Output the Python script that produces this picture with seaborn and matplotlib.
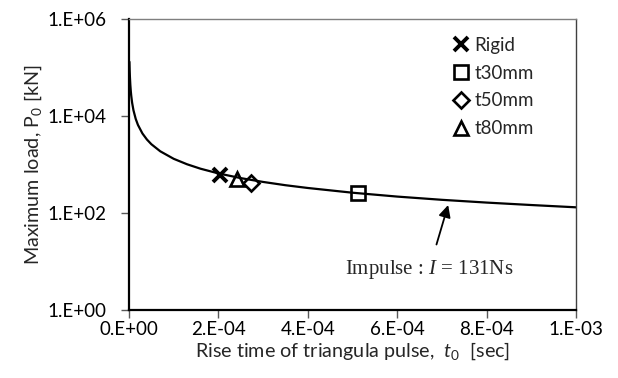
import numpy as np
import pandas as pd
import matplotlib
matplotlib.use("Agg")
import matplotlib.pyplot as plt
import seaborn as sns
from matplotlib.ticker import FuncFormatter, FixedLocator

# Curve: rise time t0 [sec] vs maximum load P0 [kN]
t0_curve = [1.0e-6, 1.5e-6, 2.0e-6, 3.0e-6, 4.0e-6, 5.0e-6, 7.0e-6, 1.0e-5, 1.5e-5,
            2.0e-5, 3.0e-5, 4.0e-5, 5.0e-5, 7.0e-5, 1.0e-4, 1.3e-4, 1.6e-4, 2.0e-4,
            2.5e-4, 3.0e-4, 3.5e-4, 4.0e-4, 5.0e-4, 6.0e-4, 7.0e-4, 8.0e-4, 9.0e-4, 1.0e-3]
p0_curve = [131000, 87300, 65500, 43700, 32800, 26200, 18700, 13100, 8730,
            6550, 4370, 3280, 2620, 1870, 1310, 1010, 819, 655,
            524, 437, 374, 328, 262, 218, 187, 164, 146, 131]

# Test points
labels = ["Rigid", "t30mm", "t50mm", "t80mm"]
t0_pts = [2.04e-4, 5.13e-4, 2.73e-4, 2.41e-4]
p0_pts = [605, 255, 410, 502]
markers = ["x", "s", "D", "^"]
msizes = [10.5, 10, 8, 10.5]
mwidths = [2.8, 1.9, 1.9, 1.9]

sns.set_style("white")
plt.rcParams["font.family"] = ["Lato", "DejaVu Sans"]
plt.rcParams["mathtext.fontset"] = "custom"
plt.rcParams["mathtext.rm"] = "Lato"
plt.rcParams["mathtext.it"] = "Lato:italic"
plt.rcParams["mathtext.cal"] = "Liberation Serif:italic"

fig = plt.figure(figsize=(6.18, 3.78), dpi=100)
ax = fig.add_axes([129 / 618, 1 - 310 / 378, (576 - 129) / 618, (310 - 19) / 378])

curve = pd.DataFrame({"t0": t0_curve, "P0": p0_curve})
sns.lineplot(data=curve, x="t0", y="P0", color="black", linewidth=1.6, ax=ax,
             sort=False)

for lab, t, p, m, ms, mw in zip(labels, t0_pts, p0_pts, markers, msizes, mwidths):
    ax.plot([t], [p], linestyle="none", marker=m, markersize=ms, markeredgewidth=mw,
            markerfacecolor="none" if m != "x" else "black", markeredgecolor="black",
            label=lab)

ax.set_yscale("log")
ax.set_xlim(0, 1e-3)
ax.set_ylim(1, 1e6)


def sci_fmt(v, pos=None):
    if v == 0:
        return "0.E+00"
    e = int(np.floor(np.log10(abs(v)) + 1e-9))
    m = v / 10 ** e
    return f"{m:.0f}.E{e:+03d}"


ax.xaxis.set_major_locator(FixedLocator([0, 2e-4, 4e-4, 6e-4, 8e-4, 1e-3]))
ax.yaxis.set_major_locator(FixedLocator([1, 1e2, 1e4, 1e6]))
ax.yaxis.set_minor_locator(FixedLocator([]))
ax.xaxis.set_major_formatter(FuncFormatter(sci_fmt))
ax.yaxis.set_major_formatter(FuncFormatter(sci_fmt))
ax.tick_params(axis="both", which="major", direction="out", length=6, width=1,
               color="#595959", labelsize=13.5, labelcolor="black")
ax.tick_params(axis="x", bottom=True, pad=2)
ax.tick_params(axis="y", left=True, pad=10)

for side in ["left", "bottom"]:
    ax.spines[side].set_color("black")
    ax.spines[side].set_linewidth(1.6)
ax.spines["top"].set_color("#7f7f7f")
ax.spines["top"].set_linewidth(1.0)
ax.spines["right"].set_color("#404040")
ax.spines["right"].set_linewidth(1.0)

ax.set_xlabel("Rise time of triangula pulse,  $t_0$  [sec]", fontsize=14.2, labelpad=2)
ax.set_ylabel("Maximum load, P$_0$ [kN]", fontsize=14.2, labelpad=3)

ax.legend(loc="upper left", bbox_to_anchor=(0.71, 0.965), frameon=False,
          fontsize=13.5, handlelength=0.8, handletextpad=0.3, labelspacing=0.58,
          borderaxespad=0)

ax.annotate("Impulse : $\\mathcal{I}$ = 131Ns", xy=(7.14e-4, 146), xytext=(6.71e-4, 6.7),
            ha="center", va="center", fontsize=15, family="Liberation Serif",
            arrowprops=dict(arrowstyle="-|>", color="black", lw=1.3,
                            mutation_scale=18, shrinkA=8, shrinkB=0))

fig.savefig("out.png", dpi=100)
